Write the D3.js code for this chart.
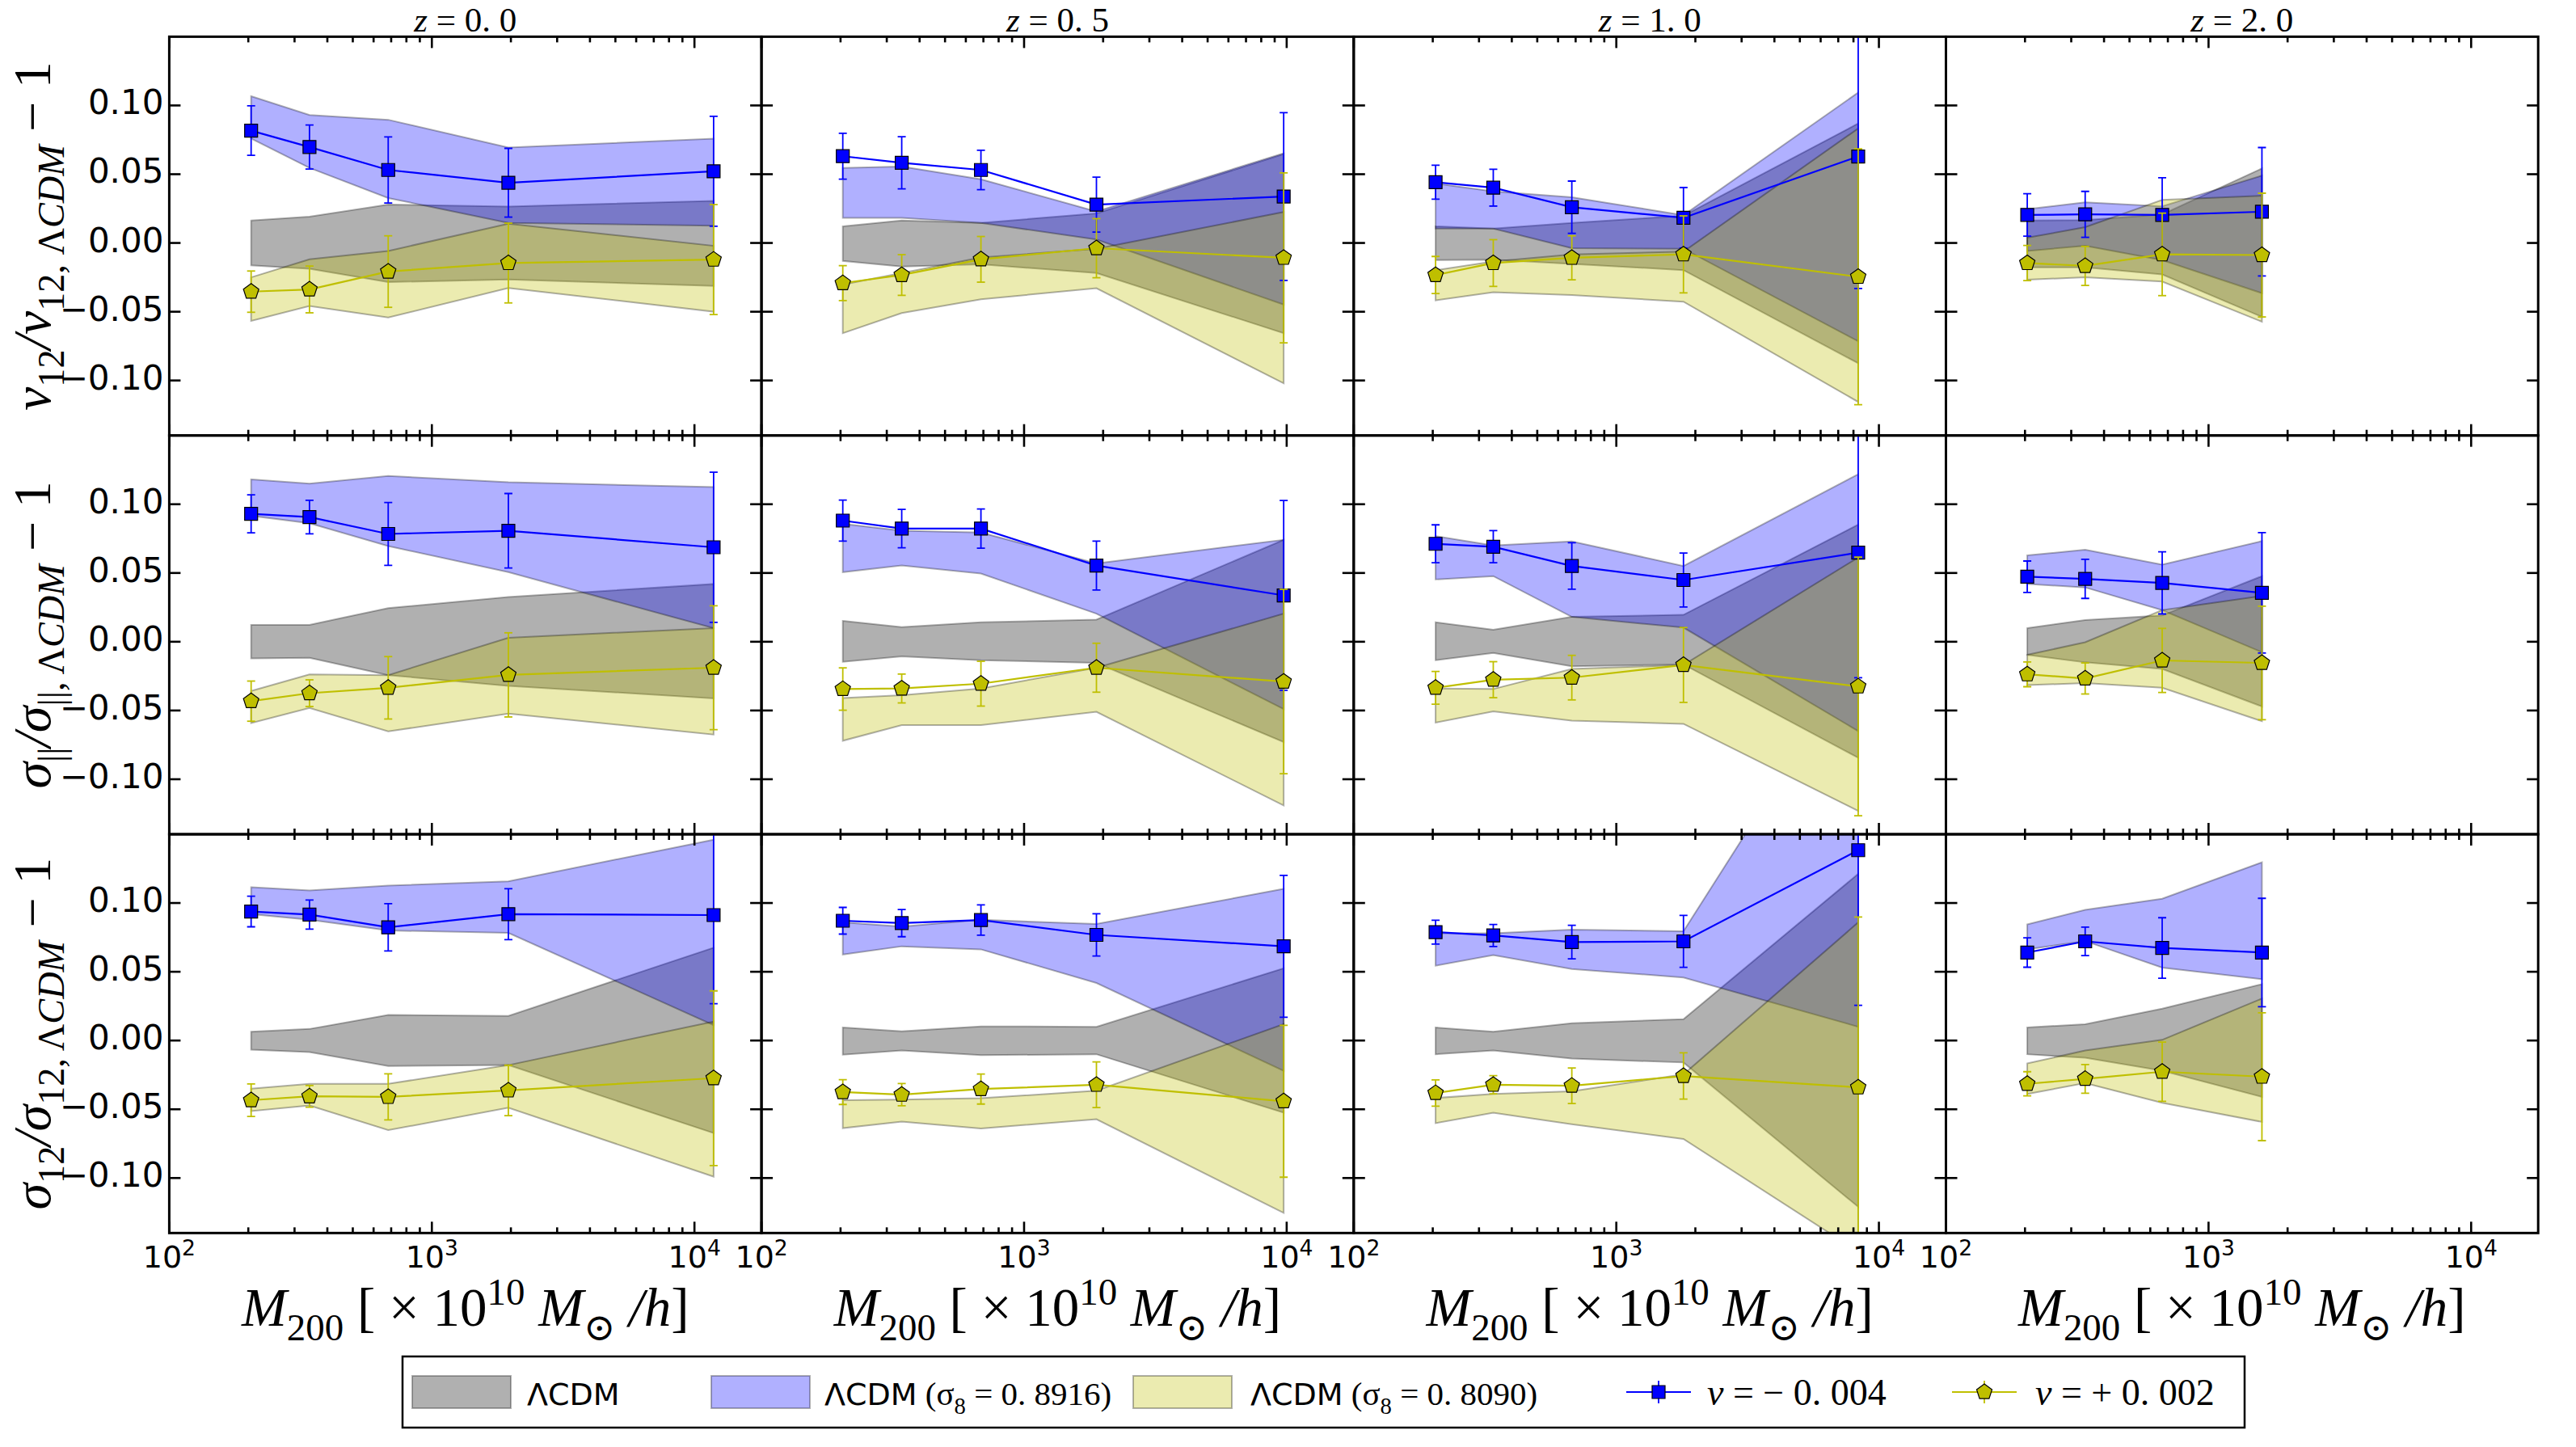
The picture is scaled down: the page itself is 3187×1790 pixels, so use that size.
<!DOCTYPE html>
<html>
<head>
<meta charset="utf-8">
<script src="https://d3js.org/d3.v7.min.js"></script>
<style>
  body { margin: 0; background: #fff; }
</style>
</head>
<body>
<svg id="fig" width="3187" height="1790"></svg>
<script>
// halo mass bins (x positions) for each redshift column
const redshifts = ["0.0", "0.5", "1.0", "2.0"];
const massBins = [
  [205, 342, 682, 1956, 11830],
  [204, 342, 685, 1886, 9740],
  [205, 340, 677, 1802, 8340],
  [204, 339, 666, 1597]
];

// ---- v12 / v12,LCDM - 1 ----
const v12LcdmHi = [[0.0163, 0.0192, 0.0279, 0.0265, 0.0306], [0.0121, 0.0163, 0.0146, 0.0215, 0.0646], [0.0121, 0.0104, 0.0146, 0.0198, 0.0869], [0.0163, 0.0167, 0.0208, 0.0542]];
const v12LcdmLo = [[-0.0163, -0.0188, -0.0285, -0.0265, -0.0313], [-0.0131, -0.0171, -0.0156, -0.0219, -0.0656], [-0.0125, -0.0121, -0.0152, -0.0198, -0.0875], [-0.0177, -0.0177, -0.0229, -0.0538]];
const v12S8hiHi = [[0.1067, 0.0931, 0.0896, 0.0694, 0.0758], [0.0546, 0.0556, 0.0463, 0.0229, 0.0652], [0.0433, 0.0375, 0.0333, 0.0202, 0.1094], [0.0246, 0.0296, 0.0267, 0.049]];
const v12S8hiLo = [[0.0760, 0.0546, 0.0327, 0.0146, 0.0125], [0.0183, 0.0183, 0.0146, 0.0025, -0.0448], [0.0104, 0.0104, -0.0038, -0.0042, -0.0715], [-0.0058, -0.0021, -0.0125, -0.0365]];
const v12S8loHi = [[-0.025, -0.0119, -0.0058, 0.014, -0.0021], [-0.0302, -0.0219, -0.0106, -0.0042, 0.0225], [-0.0198, -0.0135, -0.0083, -0.0063, 0.0833], [0.0038, 0.0115, 0.0313, 0.0344]];
const v12S8loLo = [[-0.0567, -0.0458, -0.0542, -0.0327, -0.05], [-0.0656, -0.051, -0.041, -0.0329, -0.1021], [-0.0417, -0.0358, -0.0379, -0.0427, -0.1156], [-0.0267, -0.025, -0.0281, -0.0573]];
const v12NuNeg = [[0.0817, 0.0698, 0.0531, 0.0438, 0.0521], [0.0631, 0.0583, 0.0531, 0.0279, 0.0338], [0.0442, 0.0402, 0.026, 0.0183, 0.0629], [0.0204, 0.0208, 0.0204, 0.0227]];
const v12NuNegErr = [[0.018, 0.016, 0.024, 0.025, 0.040], [0.0167, 0.019, 0.0143, 0.020, 0.061], [0.0123, 0.0134, 0.019, 0.022, 0.096], [0.0154, 0.0167, 0.027, 0.0467]];
const v12NuPos = [[-0.0354, -0.0338, -0.0208, -0.0146, -0.0121], [-0.0292, -0.0233, -0.0119, -0.0038, -0.0108], [-0.0233, -0.0146, -0.0108, -0.0083, -0.0246], [-0.0146, -0.0167, -0.0083, -0.0088]];
const v12NuPosErr = [[0.015, 0.017, 0.026, 0.029, 0.040], [0.0127, 0.0148, 0.0166, 0.0215, 0.0618], [0.0135, 0.017, 0.016, 0.028, 0.093], [0.0128, 0.0142, 0.030, 0.045]];

// ---- sigma_|| / sigma_||,LCDM - 1 ----
const sParLcdmHi = [[0.0123, 0.0123, 0.0245, 0.0325, 0.042], [0.0152, 0.0107, 0.0142, 0.0161, 0.0741], [0.0142, 0.0088, 0.0181, 0.0196, 0.0852], [0.0099, 0.0158, 0.0191, 0.0477]];
const sParLcdmLo = [[-0.0121, -0.0117, -0.0243, -0.0321, -0.0412], [-0.0146, -0.0107, -0.0134, -0.0154, -0.073], [-0.0134, -0.0082, -0.0179, -0.0165, -0.0844], [-0.0095, -0.015, -0.0198, -0.0471]];
const sParS8hiHi = [[0.1181, 0.115, 0.1206, 0.116, 0.1125], [0.0858, 0.0807, 0.0794, 0.057, 0.0741], [0.0768, 0.07, 0.073, 0.0551, 0.1218], [0.0628, 0.0669, 0.056, 0.0732]];
const sParS8hiLo = [[0.0916, 0.0862, 0.0696, 0.0506, 0.0099], [0.0506, 0.0554, 0.0496, 0.0204, -0.049], [0.0453, 0.0477, 0.0181, 0.0103, -0.065], [0.042, 0.0395, 0.023, -0.0076]];
const sParS8loHi = [[-0.0358, -0.0237, -0.0243, 0.0029, 0.0099], [-0.0409, -0.0389, -0.034, -0.0189, 0.0204], [-0.034, -0.0344, -0.0198, -0.0169, 0.0613], [-0.0095, -0.0004, 0.023, 0.0333]];
const sParS8loLo = [[-0.0591, -0.0481, -0.0652, -0.0523, -0.0675], [-0.072, -0.0607, -0.0607, -0.051, -0.119], [-0.0588, -0.0506, -0.0574, -0.0597, -0.123], [-0.0315, -0.0301, -0.0335, -0.0578]];
const sParNuNeg = [[0.093, 0.0907, 0.0784, 0.0807, 0.0687], [0.0881, 0.0823, 0.0823, 0.0554, 0.0337], [0.0712, 0.0691, 0.0551, 0.0449, 0.0648], [0.0473, 0.0457, 0.0428, 0.0356]];
const sParNuNegErr = [[0.0138, 0.0122, 0.0229, 0.0271, 0.0546], [0.0149, 0.014, 0.0143, 0.0178, 0.069], [0.0138, 0.0117, 0.0169, 0.0196, 0.091], [0.0114, 0.0142, 0.0226, 0.0438]];
const sParNuPos = [[-0.0432, -0.0374, -0.0335, -0.0241, -0.0189], [-0.0344, -0.034, -0.0305, -0.0189, -0.029], [-0.0335, -0.0276, -0.0261, -0.0169, -0.0325], [-0.0237, -0.0267, -0.0136, -0.0154]];
const sParNuPosErr = [[0.0146, 0.0097, 0.0227, 0.0306, 0.045], [0.0154, 0.0105, 0.0163, 0.0178, 0.067], [0.0119, 0.0131, 0.0162, 0.0272, 0.094], [0.009, 0.0113, 0.0233, 0.0413]];

// ---- sigma_12 / sigma_12,LCDM - 1 ----
const s12LcdmHi = [[0.0064, 0.0084, 0.0186, 0.0179, 0.0675], [0.0095, 0.0067, 0.0103, 0.01, 0.0525], [0.0095, 0.0064, 0.0126, 0.0155, 0.1212], [0.0095, 0.0119, 0.0232, 0.041]];
const s12LcdmLo = [[-0.0067, -0.0084, -0.0186, -0.0179, -0.0673], [-0.0103, -0.0072, -0.0107, -0.01, -0.0525], [-0.01, -0.0072, -0.0131, -0.016, -0.121], [-0.01, -0.0126, -0.022, -0.041]];
const s12S8hiHi = [[0.1115, 0.1091, 0.1126, 0.1158, 0.146], [0.0859, 0.0828, 0.0878, 0.0847, 0.1103], [0.078, 0.078, 0.0807, 0.0795, 0.279], [0.0845, 0.095, 0.1031, 0.1296]];
const s12S8hiLo = [[0.0919, 0.0878, 0.08, 0.0783, 0.0112], [0.0625, 0.0685, 0.0663, 0.0418, -0.022], [0.0544, 0.0621, 0.052, 0.0458, 0.01], [0.0663, 0.0723, 0.053, 0.0446]];
const s12S8loHi = [[-0.0351, -0.0315, -0.0315, -0.0179, 0.0138], [-0.0434, -0.043, -0.042, -0.0365, 0.0119], [-0.0418, -0.0389, -0.037, -0.0246, 0.0859], [-0.0167, -0.0072, 0.0005, 0.0305]];
const s12S8loLo = [[-0.0513, -0.0473, -0.0652, -0.0489, -0.099], [-0.0637, -0.059, -0.064, -0.0573, -0.1253], [-0.0601, -0.0525, -0.0609, -0.0716, -0.1535], [-0.0389, -0.031, -0.0453, -0.0592]];
const s12NuNeg = [[0.0938, 0.0916, 0.0823, 0.0919, 0.0912], [0.0871, 0.0854, 0.0876, 0.0768, 0.0685], [0.0788, 0.0764, 0.0716, 0.0721, 0.1384], [0.064, 0.0721, 0.0673, 0.064]];
const s12NuNegErr = [[0.0111, 0.0106, 0.0172, 0.0185, 0.0644], [0.0097, 0.0099, 0.011, 0.0154, 0.0516], [0.0087, 0.008, 0.0122, 0.0189, 0.1128], [0.0107, 0.0104, 0.022, 0.0394]];
const s12NuPos = [[-0.0434, -0.0406, -0.041, -0.0363, -0.0274], [-0.0375, -0.0394, -0.0353, -0.0322, -0.0442], [-0.0382, -0.0322, -0.0329, -0.0258, -0.0341], [-0.0315, -0.0279, -0.0227, -0.0263]];
const s12NuPosErr = [[0.0118, 0.0079, 0.0168, 0.0183, 0.0635], [0.009, 0.0081, 0.0109, 0.0166, 0.0552], [0.0095, 0.0066, 0.0129, 0.0168, 0.1239], [0.0088, 0.0104, 0.0215, 0.0465]];

const yTicks = [-0.10, -0.05, 0.00, 0.05, 0.10];
const xMajor = [100, 1000, 10000];

const rows = [
  {lcdm: [v12LcdmLo, v12LcdmHi], hi: [v12S8hiLo, v12S8hiHi], lo: [v12S8loLo, v12S8loHi],
   neg: [v12NuNeg, v12NuNegErr], pos: [v12NuPos, v12NuPosErr],
   label: [{t: "v", i: 1}, {t: "12", s: "sub"}, {t: "/", i: 1}, {t: "v", i: 1}, {t: "12, ", s: "sub"}, {t: "Λ", s: "sub"}, {t: "CDM", s: "sub", i: 1}, {t: " − 1"}]},
  {lcdm: [sParLcdmLo, sParLcdmHi], hi: [sParS8hiLo, sParS8hiHi], lo: [sParS8loLo, sParS8loHi],
   neg: [sParNuNeg, sParNuNegErr], pos: [sParNuPos, sParNuPosErr],
   label: [{t: "σ", i: 1}, {t: "||", s: "sub"}, {t: "/", i: 1}, {t: "σ", i: 1}, {t: "||, ", s: "sub"}, {t: "Λ", s: "sub"}, {t: "CDM", s: "sub", i: 1}, {t: " − 1"}]},
  {lcdm: [s12LcdmLo, s12LcdmHi], hi: [s12S8hiLo, s12S8hiHi], lo: [s12S8loLo, s12S8loHi],
   neg: [s12NuNeg, s12NuNegErr], pos: [s12NuPos, s12NuPosErr],
   label: [{t: "σ", i: 1}, {t: "12", s: "sub"}, {t: "/", i: 1}, {t: "σ", i: 1}, {t: "12, ", s: "sub"}, {t: "Λ", s: "sub"}, {t: "CDM", s: "sub", i: 1}, {t: " − 1"}]}
];

// layout
const padL = 209.4, padT = 45.4, pw = 732.7, ph = 493.3;
const serif = "'Liberation Serif', 'DejaVu Serif', serif";
const sans = "'DejaVu Sans', sans-serif";
const blue = "#0000ff", yel = "#bfbf00";

const svg = d3.select("#fig");
svg.append("rect").attr("width", 3187).attr("height", 1790).attr("fill", "#fff");

const x = d3.scaleLog().domain([100, 18000]).range([0, pw]);
const y = d3.scaleLinear().domain([-0.14, 0.15]).range([ph, 0]);

// rich math-ish text with sub/superscripts
function rich(sel, parts, base) {
  let shift = 0;
  parts.forEach(p => {
    const target = p.s === "sub" ? 0.26 * base : p.s === "sup" ? -0.4 * base : 0;
    const ts = sel.append("tspan").text(p.t)
      .attr("dy", target - shift)
      .attr("font-size", p.fs || (p.s ? base * 0.7 : base));
    if (p.i) ts.attr("font-style", "italic");
    if (p.f) ts.attr("font-family", p.f);
    if (p.dx) ts.attr("dx", p.dx);
    shift = target;
  });
  return sel;
}

function pentagon(r) {
  const pts = d3.range(5).map(k => {
    const a = -Math.PI / 2 + k * 2 * Math.PI / 5;
    return [r * Math.cos(a), r * Math.sin(a)];
  });
  return "M" + pts.map(p => p.join(",")).join("L") + "Z";
}
const square = "M-8,-8H8V8H-8Z";

const minorX = [];
[100, 1000].forEach(d => d3.range(2, 10).forEach(k => minorX.push(d * k)));

rows.forEach((row, r) => {
  redshifts.forEach((zs, c) => {
    const g = svg.append("g").attr("transform", `translate(${padL + c * pw},${padT + r * ph})`);
    const cid = `clip${r}${c}`;
    g.append("clipPath").attr("id", cid).append("rect").attr("width", pw).attr("height", ph);
    const plot = g.append("g").attr("clip-path", `url(#${cid})`);
    const ms = massBins[c];

    const band = (lo, hi) => ms.map((m, i) => ({m, lo: lo[c][i], hi: hi[c][i]}));
    const area = d3.area().x(d => x(d.m)).y0(d => y(d.lo)).y1(d => y(d.hi));

    [[row.lcdm, "#000000"], [row.hi, blue], [row.lo, yel]].forEach(([b, col]) => {
      plot.append("path").datum(band(b[0], b[1]))
        .attr("d", area)
        .attr("fill", col).attr("fill-opacity", 0.31)
        .attr("stroke", "#000").attr("stroke-opacity", 0.3).attr("stroke-width", 2);
    });

    const series = (s, col, marker) => {
      const pts = ms.map((m, i) => ({m, v: s[0][c][i], e: s[1][c][i]}));
      plot.append("path").datum(pts)
        .attr("d", d3.line().x(d => x(d.m)).y(d => y(d.v)))
        .attr("fill", "none").attr("stroke", col).attr("stroke-width", 2.2);
      const eb = plot.append("g").attr("stroke", col).attr("stroke-width", 1.8);
      pts.forEach(d => {
        const px = x(d.m);
        eb.append("line").attr("x1", px).attr("x2", px).attr("y1", y(d.v - d.e)).attr("y2", y(d.v + d.e));
        [d.v - d.e, d.v + d.e].forEach(v => eb.append("line")
          .attr("x1", px - 5).attr("x2", px + 5).attr("y1", y(v)).attr("y2", y(v)));
      });
      plot.append("g").selectAll("path").data(pts).join("path")
        .attr("transform", d => `translate(${x(d.m)},${y(d.v)})`)
        .attr("d", marker)
        .attr("fill", col).attr("stroke", "#000").attr("stroke-width", 1.2);
    };
    series(row.neg, blue, square);
    series(row.pos, yel, pentagon(10));

    // ticks pointing inward on all four sides
    const tk = g.append("g").attr("stroke", "#000").attr("stroke-width", 2.6);
    xMajor.concat(minorX).forEach(v => {
      const len = xMajor.includes(v) ? 14 : 7;
      const px = x(v);
      tk.append("line").attr("x1", px).attr("x2", px).attr("y1", 0).attr("y2", len);
      tk.append("line").attr("x1", px).attr("x2", px).attr("y1", ph).attr("y2", ph - len);
    });
    yTicks.forEach(v => {
      tk.append("line").attr("x1", 0).attr("x2", 14).attr("y1", y(v)).attr("y2", y(v));
      tk.append("line").attr("x1", pw).attr("x2", pw - 14).attr("y1", y(v)).attr("y2", y(v));
    });
    g.append("rect").attr("width", pw).attr("height", ph)
      .attr("fill", "none").attr("stroke", "#000").attr("stroke-width", 3);

    if (c === 0) {
      yTicks.forEach(v => {
        g.append("text").attr("x", -7).attr("y", y(v) + 11)
          .attr("text-anchor", "end").attr("font-family", sans).attr("font-size", 42)
          .text(d3.format(".2f")(v).replace("-", "−"));
      });
    }
    if (r === 2) {
      xMajor.forEach(v => {
        const t = g.append("text").attr("x", x(v)).attr("y", ph + 43)
          .attr("text-anchor", "middle").attr("font-family", sans);
        rich(t, [{t: "10"}, {t: String(Math.log10(v)), s: "sup"}], 38);
      });
      const xl = g.append("text").attr("x", pw / 2).attr("y", ph + 115)
        .attr("text-anchor", "middle").attr("font-family", serif);
      rich(xl, [{t: "M", i: 1}, {t: "200", s: "sub"}, {t: " [ × 10"}, {t: "10", s: "sup"},
                {t: "  M", i: 1}, {t: "⊙", s: "sub"}, {t: " /", i: 1}, {t: "h", i: 1}, {t: "]"}], 67);
    }
    if (r === 0) {
      const tt = g.append("text").attr("x", pw / 2).attr("y", -6)
        .attr("text-anchor", "middle").attr("font-family", serif);
      rich(tt, [{t: "z", i: 1}, {t: " = " + zs.replace(".", ". ")}], 43);
    }
  });

  const yl = svg.append("text")
    .attr("transform", `translate(${62},${padT + r * ph + ph / 2}) rotate(-90)`)
    .attr("text-anchor", "middle").attr("font-family", serif);
  rich(yl, row.label, 66);
});

// legend
const leg = svg.append("g");
leg.append("rect").attr("x", 498).attr("y", 1678).attr("width", 2279).attr("height", 88)
  .attr("fill", "#fff").attr("stroke", "#000").attr("stroke-width", 2.5);
const patches = [
  {x: 510, col: "#000000", tx: 652, label: [{t: "ΛCDM", f: sans, fs: 38}]},
  {x: 880, col: blue, tx: 1020, label: [{t: "ΛCDM", f: sans, fs: 38}, {t: "  (σ"}, {t: "8", s: "sub"}, {t: " = 0. 8916)"}]},
  {x: 1402, col: yel, tx: 1547, label: [{t: "ΛCDM", f: sans, fs: 38}, {t: "  (σ"}, {t: "8", s: "sub"}, {t: " = 0. 8090)"}]}
];
patches.forEach(p => {
  leg.append("rect").attr("x", p.x).attr("y", 1702).attr("width", 122).attr("height", 40)
    .attr("fill", p.col).attr("fill-opacity", 0.31).attr("stroke", "#000").attr("stroke-opacity", 0.3).attr("stroke-width", 2);
  const t = leg.append("text").attr("x", p.tx).attr("y", 1738).attr("font-family", serif);
  rich(t, p.label, 41);
});
const handles = [
  {cx: 2052, col: blue, marker: square, tx: 2112, label: [{t: "ν", i: 1}, {t: " = − 0. 004"}]},
  {cx: 2455, col: yel, marker: pentagon(10), tx: 2518, label: [{t: "ν", i: 1}, {t: " = + 0. 002"}]}
];
handles.forEach(h => {
  leg.append("line").attr("x1", h.cx - 40).attr("x2", h.cx + 40).attr("y1", 1722).attr("y2", 1722)
    .attr("stroke", h.col).attr("stroke-width", 2.2);
  leg.append("line").attr("x1", h.cx).attr("x2", h.cx).attr("y1", 1708).attr("y2", 1736)
    .attr("stroke", h.col).attr("stroke-width", 1.8);
  leg.append("path").attr("transform", `translate(${h.cx},1722)`).attr("d", h.marker)
    .attr("fill", h.col).attr("stroke", "#000").attr("stroke-width", 1.2);
  const t = leg.append("text").attr("x", h.tx).attr("y", 1738).attr("font-family", serif);
  rich(t, h.label, 46);
});
</script>
</body>
</html>
